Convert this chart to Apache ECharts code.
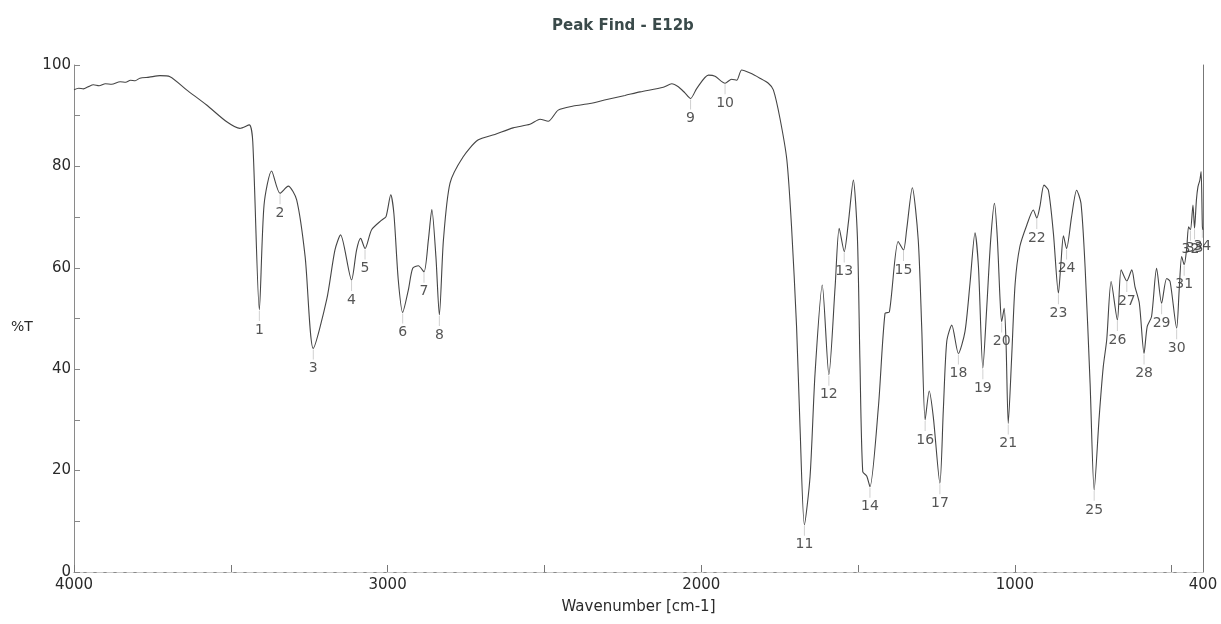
<!DOCTYPE html>
<html>
<head>
<meta charset="utf-8">
<script src="https://cdn.jsdelivr.net/npm/echarts@6/dist/echarts.min.js"></script>
<style>
html,body{margin:0;padding:0;background:#fff;}
#chart{width:1221px;height:624px;}
</style>
</head>
<body>
<div id="chart"></div>
<script>
// Spectrum trace: wavenumber (cm-1) and %T
var wavenumbers = [4000,3985,3970,3955,3938,3920,3900,3880,3853,3835,3820,3805,3790,3760,3726,3694,3641,3577,3513,3471,3441,3430,3409,3394,3370,3343,3317,3290,3263,3237,3194,3168,3150,3115,3099,3086,3072,3051,3019,3005,2990,2980,2966,2952,2934,2920,2902,2884,2870,2859,2846,2835,2822,2801,2759,2712,2658,2600,2546,2514,2488,2456,2408,2355,2301,2243,2195,2121,2094,2073,2052,2034,2014,1977,1956,1924,1903,1887,1871,1844,1813,1786,1770,1749,1727,1712,1696,1685,1671,1653,1637,1614,1593,1573,1560,1544,1531,1515,1502,1494,1485,1472,1462,1435,1414,1400,1372,1355,1345,1327,1308,1297,1286,1273,1260,1239,1228,1217,1201,1180,1159,1143,1127,1116,1102,1090,1077,1065,1056,1047,1042,1034,1028,1021,1010,999,984,962,941,930,920,907,893,877,861,853,845,835,819,803,789,776,760,747,731,718,707,693,673,661,643,627,617,603,588,578,564,548,532,516,505,484,476,468,460,452,446,440,432,427,421,416,410,406,402,400];
var transmittance = [95.1,95.4,95.3,95.7,96.1,95.9,96.3,96.2,96.7,96.6,97.0,96.9,97.4,97.6,97.9,97.7,95.1,92.1,88.8,87.5,88.2,84.9,51.7,72.4,79.1,74.7,76.1,73.4,62.2,44.1,53.8,63.5,66.5,57.6,63.5,65.8,63.8,67.5,69.4,70.1,74.4,70.7,57.6,51.2,55.6,59.9,60.4,59.2,65.5,71.5,62.2,50.7,65.5,76.7,81.9,85.2,86.3,87.6,88.3,89.3,88.9,91.1,91.9,92.4,93.2,94.0,94.7,95.6,96.3,95.7,94.5,93.4,95.4,98.0,97.8,96.4,97.2,97.0,99.0,98.4,97.4,96.4,95.1,89.5,81.3,68.1,48.4,28.7,9.3,18.8,39.2,56.6,38.9,56.3,67.8,63.2,68.8,77.3,66.1,41.8,19.8,18.9,16.8,32.6,51.0,51.3,65.2,63.5,67.5,75.8,65.5,48.4,30.0,35.7,30.6,17.5,32.0,45.5,48.7,43.1,47.4,56.9,66.9,60.2,40.2,51.7,65.5,72.7,66.1,53.6,49.4,52.0,45.1,29.3,42.5,56.9,64.2,68.4,71.4,69.8,72.1,76.3,75.3,66.8,55.0,60.9,66.3,63.8,70.1,75.3,72.7,60.2,37.2,16.2,30.6,40.5,45.8,57.3,49.7,59.6,57.4,59.6,56.3,53.0,43.1,48.4,50.4,59.9,53.0,57.9,57.3,48.1,55.6,62.2,60.6,63.8,68.1,67.5,72.4,67.8,73.4,76.0,77.3,79.0,68.1,67.5];

// Picked peaks
var peakWn = [3409,3343,3237,3115,3072,2952,2884,2835,2034,1924,1671,1593,1544,1462,1355,1286,1239,1180,1102,1042,1021,930,861,835,747,673,643,588,532,484,460,440,427,402];
var peakT  = [51.7,74.7,44.1,57.6,63.8,51.2,59.2,50.7,93.4,96.4,9.3,38.9,63.2,16.8,63.5,30.0,17.5,43.1,40.2,49.4,29.3,69.8,55.0,63.8,16.2,49.7,57.4,43.1,53.0,48.1,60.6,67.5,67.8,68.1];

var xTickValues = [4000,3500,3000,2500,2000,1500,1000,500];
var xLabelValues = [4000,3000,2000,1000,400];
var yLabelValues = [0,20,40,60,80,100];

var titleText = 'Peak Find - E12b';
var xName = 'Wavenumber [cm-1]';
var yName = '%T';

var lineData = wavenumbers.map(function(w,i){return [w, transmittance[i]];});
var peakData = peakWn.map(function(w,i){return {value:[w, peakT[i]], name:String(i+1)};});

var FONT = 'DejaVu Sans, Liberation Sans, sans-serif';
var chart = echarts.init(document.getElementById('chart'), null, {renderer:'canvas'});
chart.setOption({
  backgroundColor:'#ffffff',
  animation:false,
  title:{text:titleText,left:547,top:14,
    textStyle:{fontFamily:FONT,fontSize:15,fontWeight:'bold',color:'#3a4a4a'}},
  grid:{left:74,right:18,top:65,bottom:52,containLabel:false},
  xAxis:[{
    type:'value',min:400,max:4000,inverse:true,position:'bottom',
    name:xName,nameLocation:'middle',nameGap:28,
    nameTextStyle:{fontFamily:FONT,fontSize:15,color:'#2a2a2a'},
    axisLine:{lineStyle:{color:'#8a8a8a',width:1}},
    axisTick:{inside:true,length:7,customValues:xTickValues,lineStyle:{color:'#777'}},
    axisLabel:{customValues:xLabelValues,formatter:function(v){return String(v);},
      fontFamily:FONT,fontSize:15,color:'#2a2a2a',margin:6},
    splitLine:{show:false}
  },{
    type:'value',min:400,max:4000,inverse:true,position:'top',
    axisLine:{show:true,lineStyle:{color:'#c8c8c8',width:1,type:[6,4]}},
    axisTick:{show:false},axisLabel:{show:false},splitLine:{show:false}
  }],
  yAxis:[{
    type:'value',min:0,max:100,interval:10,position:'left',
    axisLine:{show:true,lineStyle:{color:'#8a8a8a',width:1}},
    axisTick:{show:true,inside:true,length:6,lineStyle:{color:'#888'}},
    axisLabel:{customValues:yLabelValues,formatter:function(v){return String(v);},
      fontFamily:FONT,fontSize:15,color:'#2a2a2a',margin:3},
    splitLine:{show:false}
  },{
    type:'value',min:0,max:100,position:'right',
    axisLine:{show:true,lineStyle:{color:'#777',width:1}},
    axisTick:{show:false},axisLabel:{show:false},splitLine:{show:false}
  }],
  graphic:[{type:'text',left:11,top:320,style:{text:yName,font:'14px '+FONT,fill:'#2a2a2a'}}],
  series:[{
    type:'line',data:lineData,symbol:'none',smooth:0.25,
    lineStyle:{color:'#454545',width:1.1},z:3
  },{
    type:'scatter',data:peakData,symbol:'rect',symbolSize:[1,10],symbolOffset:[0,6],
    itemStyle:{color:'#c4c4c4'},z:2,
    label:{show:true,position:'bottom',distance:2,formatter:function(p){return p.name;},
      fontFamily:FONT,fontSize:14,color:'#2a2a2a'}
  }]
});
</script>
</body>
</html>
